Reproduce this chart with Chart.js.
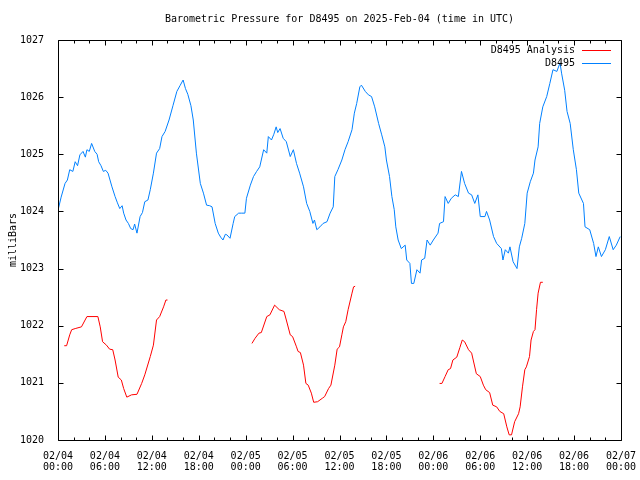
<!DOCTYPE html>
<html>
<head>
<meta charset="UTF-8">
<title>Barometric Pressure D8495</title>
<script src="https://cdn.jsdelivr.net/npm/chart.js"></script>
<style>
body{margin:0;background:#fff;}
#wrap{width:640px;height:480px;}
</style>
</head>
<body>
<div id="wrap"><canvas id="chart" width="640" height="480"></canvas></div>
<script>
// hours since 02/04 00:00 UTC
const obsHours = [
0.0,0.4,0.9,1.2,1.5,1.9,2.2,2.5,2.8,3.2,3.5,3.7,4.0,4.3,4.7,5.0,5.2,5.5,5.8,6.1,6.4,6.9,7.3,7.6,7.9,8.2,8.4,8.7,9.0,9.3,9.6,9.8,
10.1,10.5,10.8,11.1,11.5,11.8,12.2,12.6,13.0,13.3,13.7,14.2,14.7,15.2,15.6,16.0,16.3,16.6,17.0,17.3,17.7,18.2,18.6,19.0,19.4,19.7,
20.1,20.5,20.8,21.1,21.4,21.6,22.0,22.4,22.6,23.1,23.5,23.9,24.1,24.6,25.0,25.4,25.8,26.3,26.7,26.9,27.3,27.6,27.9,28.1,28.4,28.8,29.2,29.7,
30.1,30.5,30.9,31.4,31.8,32.2,32.6,32.8,33.1,33.5,33.9,34.4,34.8,35.2,35.4,35.8,36.3,36.7,37.1,37.6,37.9,38.2,38.6,38.8,39.3,39.7,
40.1,40.5,41.0,41.4,41.8,42.0,42.4,42.7,43.0,43.2,43.5,43.9,44.4,44.6,45.0,45.2,45.5,45.9,46.3,46.5,46.9,47.2,47.6,48.0,48.6,48.8,49.3,49.5,49.9,
50.3,50.8,51.2,51.6,52.0,52.5,52.9,53.3,53.7,54.0,54.6,54.8,55.2,55.7,56.1,56.7,56.9,57.2,57.6,57.8,58.2,58.7,59.0,59.3,59.7,
60.0,60.4,60.8,61.0,61.4,61.6,62.0,62.5,62.9,63.3,63.8,64.2,64.4,64.8,65.1,65.5,65.9,66.3,66.6,67.2,67.4,68.0,68.5,68.8,69.1,69.5,
70.0,70.5,71.0,71.4,71.9
];
const obsPressure = [
1024.02,1024.25,1024.49,1024.55,1024.73,1024.70,1024.87,1024.80,1024.99,1025.05,1024.95,1025.08,1025.05,1025.19,1025.05,1025.00,1024.87,1024.80,1024.70,1024.72,1024.67,1024.43,1024.26,1024.15,1024.05,1024.10,1023.97,1023.85,1023.79,1023.70,1023.68,1023.78,
1023.62,1023.91,1023.98,1024.17,1024.20,1024.38,1024.67,1025.02,1025.10,1025.31,1025.40,1025.60,1025.85,1026.10,1026.20,1026.30,1026.15,1026.05,1025.85,1025.60,1025.02,1024.49,1024.32,1024.11,1024.10,1024.08,
1023.79,1023.62,1023.55,1023.50,1023.60,1023.59,1023.53,1023.79,1023.91,1023.97,1023.97,1023.97,1024.23,1024.46,1024.61,1024.70,1024.78,1025.08,1025.02,1025.31,1025.25,1025.35,1025.48,1025.38,1025.45,1025.28,1025.22,1024.96,
1025.08,1024.84,1024.67,1024.43,1024.14,1024.00,1023.79,1023.85,1023.68,1023.73,1023.79,1023.82,1023.97,1024.08,1024.61,1024.73,1024.90,1025.08,1025.22,1025.43,1025.72,1025.89,1026.18,1026.21,1026.10,1026.04,
1026.01,1025.83,1025.54,1025.34,1025.13,1024.90,1024.61,1024.26,1024.03,1023.73,1023.50,1023.35,1023.41,1023.15,1023.09,1022.74,1022.74,1022.98,1022.92,1023.15,1023.18,1023.50,1023.41,1023.50,1023.62,1023.79,1023.82,1024.26,1024.14,
1024.23,1024.29,1024.26,1024.70,1024.49,1024.32,1024.29,1024.14,1024.29,1023.91,1023.91,1024.00,1023.85,1023.56,1023.44,1023.35,1023.15,1023.33,1023.27,1023.38,1023.12,1023.00,1023.38,1023.53,1023.79,
1024.32,1024.52,1024.67,1024.90,1025.13,1025.54,1025.83,1026.01,1026.24,1026.48,1026.45,1026.60,1026.42,1026.12,1025.75,1025.54,1025.08,1024.73,1024.32,1024.14,1023.73,1023.68,1023.44,1023.21,1023.38,1023.21,
1023.33,1023.56,1023.33,1023.41,1023.56
];

// analysis runs, null = gap between runs
const anaHours = [
0.8,1.1,1.5,1.75,2.2,3.0,3.7,5.1,5.4,5.7,6.2,6.6,7.0,7.3,7.7,8.1,8.4,8.8,9.4,10.1,10.7,11.1,11.8,12.2,12.6,13.0,13.5,13.8,14.0,
20.0,
24.8,25.2,25.7,26.0,26.7,27.1,27.7,28.3,28.9,29.2,29.7,30.0,30.5,30.7,31.0,31.4,31.7,32.0,32.4,32.7,33.2,33.8,34.1,34.6,34.9,35.4,35.7,36.0,36.3,36.5,36.8,37.1,37.6,37.8,38.0,
44.0,
48.8,49.1,49.5,49.9,50.2,50.5,51.0,51.4,51.7,52.0,52.5,52.9,53.1,53.5,54.0,54.4,54.7,55.2,55.6,56.1,56.5,57.0,57.4,57.7,58.0,58.4,58.9,59.1,59.4,59.7,59.9,60.3,60.5,60.8,61.0,61.2,61.4,61.7,62.0
];
const anaPressure = [
1021.65,1021.65,1021.84,1021.93,1021.95,1021.98,1022.16,1022.16,1021.98,1021.72,1021.66,1021.59,1021.58,1021.40,1021.10,1021.05,1020.90,1020.75,1020.79,1020.80,1020.99,1021.14,1021.46,1021.66,1022.10,1022.16,1022.33,1022.45,1022.45,
null,
1021.69,1021.78,1021.87,1021.88,1022.16,1022.19,1022.36,1022.28,1022.25,1022.10,1021.84,1021.81,1021.63,1021.55,1021.53,1021.31,1020.99,1020.96,1020.82,1020.66,1020.67,1020.73,1020.76,1020.90,1020.96,1021.31,1021.59,1021.63,1021.84,1021.98,1022.07,1022.28,1022.57,1022.68,1022.69,
null,
1020.99,1020.99,1021.11,1021.23,1021.25,1021.40,1021.45,1021.62,1021.75,1021.72,1021.58,1021.52,1021.40,1021.16,1021.11,1020.96,1020.88,1020.83,1020.61,1020.58,1020.50,1020.46,1020.23,1020.09,1020.09,1020.32,1020.46,1020.58,1020.93,1021.23,1021.28,1021.46,1021.75,1021.90,1021.93,1022.28,1022.57,1022.76,1022.76
];

const dayLabels = ['02/04','02/05','02/06','02/07'];
const FONT = {family:'"DejaVu Sans Mono", monospace', size:10, lineHeight:1.1};

function xLabel(v){
    if(v % 6 !== 0) return '';
    const d = dayLabels[Math.floor(v/24)];
    const hh = String(v % 24).padStart(2,'0');
    return [d, hh+':00'];
}

// gnuplot style frame with inward ticks on all four sides + legend
const frame = {
    id:'frame',
    afterDatasetsDraw(chart){
        const c = chart.ctx, a = chart.chartArea;
        const L = Math.round(a.left)+0.5, R = Math.round(a.right)+0.5;
        const T = Math.round(a.top)+0.5, B = Math.round(a.bottom)+0.5;
        c.save();
        c.strokeStyle = '#000';
        c.lineWidth = 1;
        c.beginPath();
        c.rect(L, T, R-L, B-T);
        const xs = chart.scales.x, ys = chart.scales.y;
        xs.ticks.forEach(t=>{
            const px = Math.round(xs.getPixelForValue(t.value))+0.5;
            const len = t.value % 6 === 0 ? 5 : 3;
            c.moveTo(px, B); c.lineTo(px, B-len);
            c.moveTo(px, T); c.lineTo(px, T+len);
        });
        ys.ticks.forEach(t=>{
            const py = Math.round(ys.getPixelForValue(t.value))+0.5;
            c.moveTo(L, py); c.lineTo(L+5, py);
            c.moveTo(R, py); c.lineTo(R-5, py);
        });
        c.stroke();

        // legend
        c.font = '10px "DejaVu Sans Mono", monospace';
        c.textAlign = 'right';
        c.textBaseline = 'middle';
        chart.data.datasets.forEach((ds,i)=>{
            const y = 50 + i*13;
            c.fillStyle = '#000';
            c.fillText(ds.label, 575, y);
            c.strokeStyle = ds.borderColor;
            c.beginPath();
            c.moveTo(582, y+0.5); c.lineTo(611, y+0.5);
            c.stroke();
        });
        c.restore();
    }
};

new Chart(document.getElementById('chart'), {
    type:'line',
    data:{
        datasets:[
            {label:'D8495 Analysis', data:anaHours.map((h,i)=>({x:h,y:anaPressure[i]})),
             borderColor:'#ff0000', borderWidth:1, pointRadius:0, spanGaps:false, tension:0},
            {label:'D8495', data:obsHours.map((h,i)=>({x:h,y:obsPressure[i]})),
             borderColor:'#0080ff', borderWidth:1, pointRadius:0, tension:0}
        ]
    },
    options:{
        responsive:false,
        animation:false,
        layout:{padding:{top:0,right:19,bottom:0,left:0}},
        plugins:{
            legend:{display:false},
            tooltip:{enabled:false},
            title:{
                display:true, fullSize:false,
                text:'Barometric Pressure for D8495 on 2025-Feb-04 (time in UTC)',
                color:'#000', font:{...FONT, lineHeight:1.2, weight:'normal'},
                padding:{top:13,bottom:15}
            }
        },
        scales:{
            x:{
                type:'linear', min:0, max:72,
                grid:{display:false}, border:{display:false},
                ticks:{stepSize:2, autoSkip:false, maxRotation:0, color:'#000', font:FONT, padding:3, callback:xLabel},
                afterFit:s=>{ s.height = 40; s.paddingLeft = 0; s.paddingRight = 0; }
            },
            y:{
                min:1020, max:1027,
                grid:{display:false}, border:{display:false},
                ticks:{stepSize:1, color:'#000', font:FONT, padding:6, callback:v=>String(v)},
                title:{display:true, text:'milliBars', color:'#000', font:{...FONT, lineHeight:1.2}, padding:{top:7,bottom:0}},
                afterFit:s=>{ s.width = 58; s.paddingTop = 0; s.paddingBottom = 0; }
            }
        }
    },
    plugins:[frame]
});
</script>
</body>
</html>
